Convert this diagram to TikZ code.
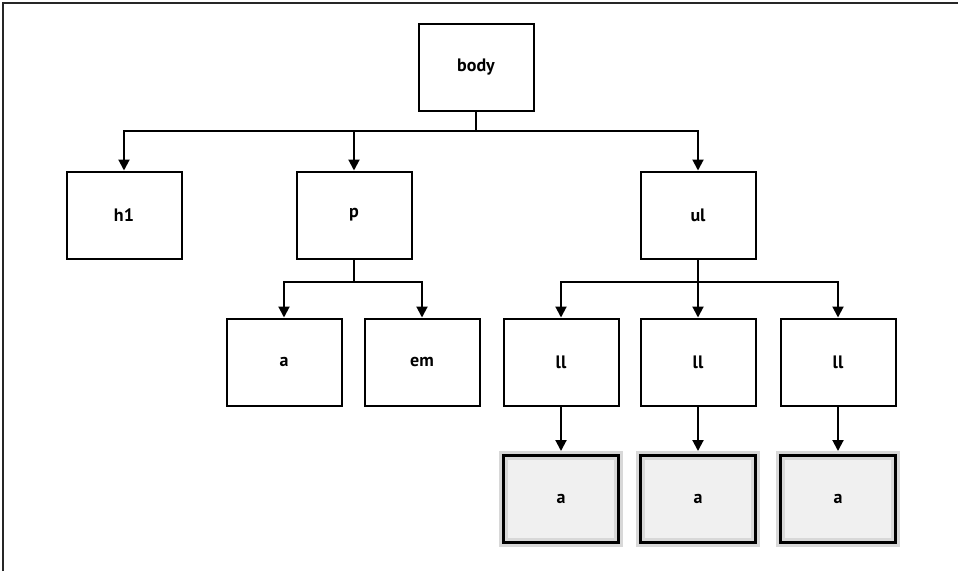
\documentclass[tikz,border=0pt]{standalone}
\usepackage{fontspec}
\setmainfont{PT Sans}
\usepackage{xcolor}
\usetikzlibrary{arrows.meta}
\definecolor{boxfill}{HTML}{F0F0F0}
\definecolor{boxedge}{HTML}{D8D8D8}

\tikzset{
  tag/.style={draw, line width=2pt, minimum width=115pt, minimum height=87pt,
    inner sep=0pt, font=\fontsize{18}{20}\selectfont\bfseries},
  leaf/.style={tag, draw=boxedge, line width=9pt,
    preaction={fill=boxfill},
    postaction={draw=black, line width=2.5pt}},
  edge/.style={line width=2pt, -{Triangle[length=11pt,width=11pt]}}
}

\begin{document}
\begin{tikzpicture}[x=1pt,y=-1pt]
\useasboundingbox (0,0) rectangle (958,571);
% frame
\draw[line width=2pt, black!85] (3,571) -- (3,3) -- (958,3);

\node[tag] (body) at (476,67) {body};
\node[tag] (h1) at (124,215) {h1};
\node[tag] (p) at (354,215) {p};
\node[tag] (ul) at (698,215) {ul};
\node[tag] (pa) at (284,362) {a};
\node[tag] (em) at (422,362) {em};
\foreach \n/\x in {1/561,2/698,3/838}{
  \node[tag] (li\n) at (\x,362) {ll};
  \node[leaf] (a\n) at (\x,499) {a};
}

% body children
\draw[line width=2pt] (body.south) -- ++(0,19) coordinate (bj);
\foreach \c in {h1,p,ul}
  \draw[edge] (bj) -| (\c.north);
% p children
\draw[line width=2pt] (p.south) -- ++(0,22) coordinate (pj);
\foreach \c in {pa,em}
  \draw[edge] (pj) -| (\c.north);
% ul children
\draw[line width=2pt] (ul.south) -- ++(0,22) coordinate (uj);
\foreach \n in {1,2,3}{
  \draw[edge] (uj) -| (li\n.north);
  \draw[edge] (li\n.south) -- (a\n.north);
}
\end{tikzpicture}
\end{document}
